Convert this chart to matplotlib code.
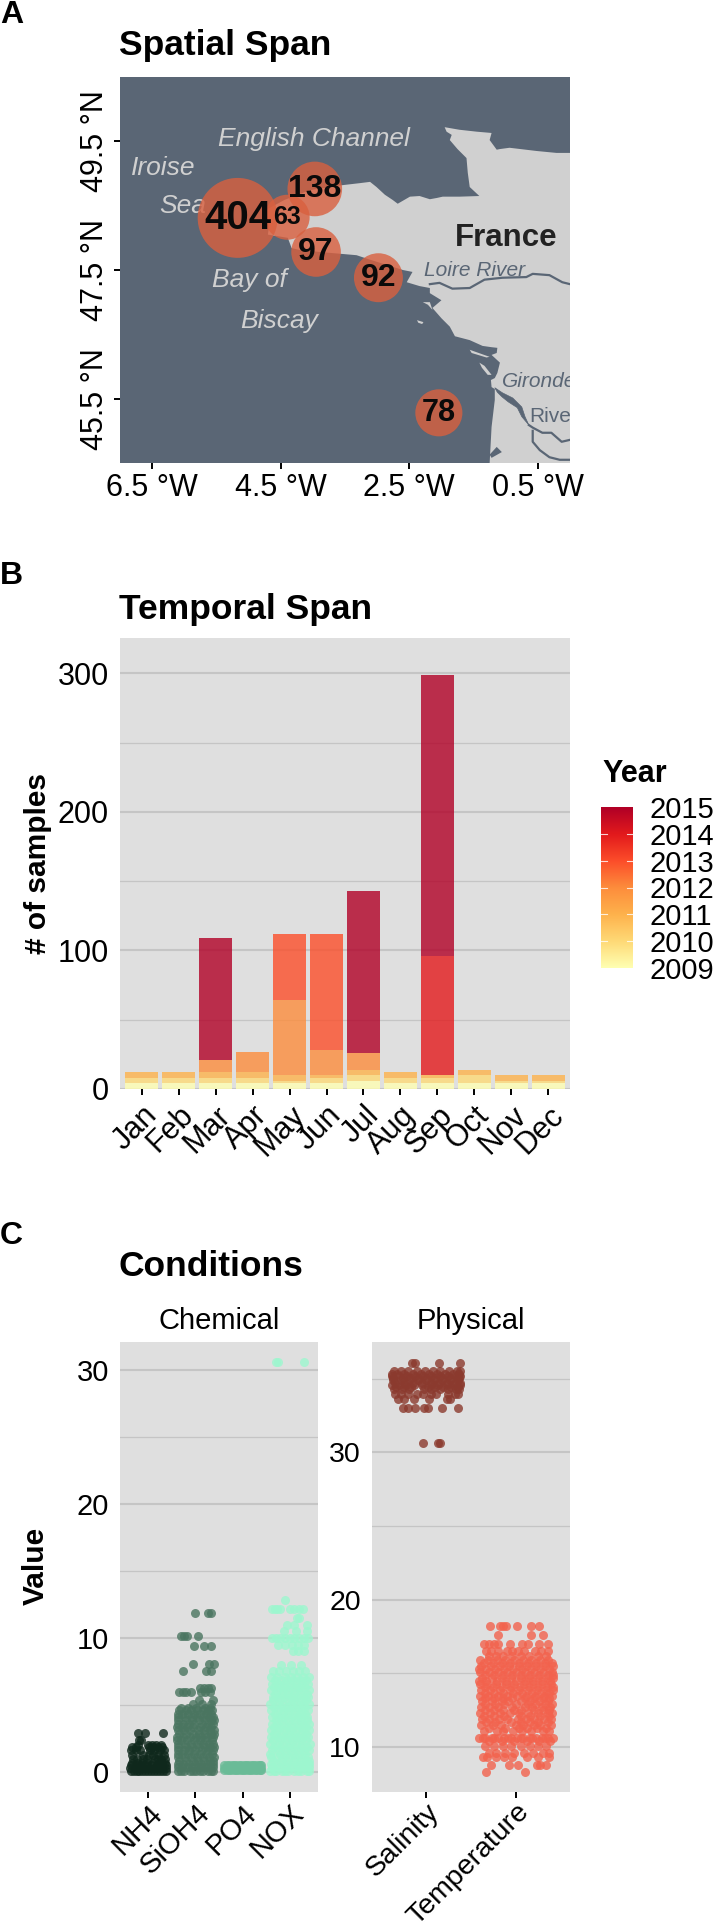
import matplotlib
matplotlib.use("Agg")
import matplotlib.pyplot as plt
from matplotlib.colors import LinearSegmentedColormap
from matplotlib.patches import Polygon

plt.rcParams["font.family"] = ["Liberation Sans", "DejaVu Sans"]

W = 717
H = 1930

# map: sampling sites and outlines (lon, lat)
site_lon = [-5.17, -3.97, -4.40, -3.95, -2.98, -2.04]
site_lat = [48.31, 48.76, 48.32, 47.78, 47.38, 45.28]
site_n = [404, 138, 63, 97, 92, 78]
site_fs = [29, 23, 18, 23, 23, 22]

land = [(0.1, 49.32), (-0.21, 49.32), (-0.52, 49.35), (-0.94, 49.40), (-1.09, 49.38), (-1.14, 49.37),
        (-1.25, 49.52), (-1.22, 49.63), (-1.45, 49.65), (-1.72, 49.68), (-1.95, 49.72), (-1.92, 49.65),
        (-1.84, 49.60), (-1.87, 49.52), (-1.75, 49.38), (-1.61, 49.24), (-1.59, 49.01), (-1.56, 48.79),
        (-1.41, 48.65), (-1.72, 48.64), (-1.98, 48.64), (-2.07, 48.62), (-2.18, 48.60), (-2.34, 48.65),
        (-2.49, 48.64), (-2.68, 48.53), (-2.76, 48.59), (-2.88, 48.67), (-3.01, 48.79), (-3.11, 48.87),
        (-3.27, 48.85), (-3.53, 48.82), (-4.05, 48.74), (-4.44, 48.59), (-4.79, 48.40), (-4.67, 48.25),
        (-4.70, 48.05), (-4.39, 48.00), (-4.33, 47.84), (-4.20, 47.81), (-3.89, 47.78), (-3.32, 47.73),
        (-3.11, 47.66), (-2.60, 47.50), (-2.45, 47.47), (-2.54, 47.31), (-2.34, 47.25), (-2.18, 47.22),
        (-2.18, 47.14), (-2.00, 47.03), (-2.14, 46.91), (-2.00, 46.75), (-1.87, 46.62), (-1.79, 46.47),
        (-1.56, 46.41), (-1.36, 46.32), (-1.22, 46.30), (-1.13, 46.29), (-1.14, 46.21), (-1.22, 46.18),
        (-1.09, 46.06), (-1.13, 45.90), (-1.17, 45.82), (-1.23, 45.79), (-1.22, 45.68), (-1.17, 45.65),
        (-1.17, 45.48), (-1.22, 45.06), (-1.25, 44.50), (-1.25, 44.40), (0.1, 44.40)]
islands = [[(-2.29, 47.00), (-2.18, 47.00), (-2.14, 46.88), (-2.21, 46.96)],
           [(-2.38, 46.72), (-2.28, 46.69), (-2.30, 46.66), (-2.36, 46.68)],
           [(-1.56, 46.26), (-1.25, 46.15), (-1.30, 46.14), (-1.53, 46.21)],
           [(-1.41, 46.06), (-1.33, 46.01), (-1.22, 45.87), (-1.28, 45.87), (-1.37, 45.98)]]
gironde = [(-1.17, 45.67), (-1.05, 45.59), (-0.89, 45.51), (-0.75, 45.37), (-0.70, 45.22), (-0.64, 45.09),
           (-0.75, 45.22), (-0.82, 45.36), (-0.96, 45.45), (-1.06, 45.53), (-1.13, 45.60)]
arcachon = [(-1.25, 44.63), (-1.14, 44.75), (-1.06, 44.67), (-1.22, 44.58)]
rivers = [[(-2.18, 47.28), (-2.03, 47.30), (-1.83, 47.21), (-1.56, 47.22), (-1.33, 47.35), (-1.05, 47.38),
           (-0.68, 47.39), (-0.58, 47.44), (-0.32, 47.42), (-0.12, 47.31), (0.0, 47.28)],
          [(-0.64, 45.09), (-0.58, 45.05), (-0.43, 44.97), (-0.29, 44.97), (-0.13, 44.83), (0.0, 44.86)],
          [(-0.58, 45.00), (-0.58, 44.83), (-0.47, 44.70), (-0.32, 44.59), (-0.16, 44.55), (0.0, 44.55)]]

lon_ticks = [-6.5, -4.5, -2.5, -0.5]
lat_ticks = [45.5, 47.5, 49.5]

# stacked counts by month, one list per year
months = ["Jan", "Feb", "Mar", "Apr", "May", "Jun", "Jul", "Aug", "Sep", "Oct", "Nov", "Dec"]
years = [2009, 2010, 2011, 2012, 2013, 2014, 2015]
y2009 = [4, 4, 4, 4, 4, 4, 6, 4, 4, 4, 4, 4]
y2010 = [4, 4, 4, 4, 2, 4, 4, 4, 4, 6, 2, 2]
y2011 = [4, 4, 4, 4, 4, 2, 4, 4, 2, 4, 4, 4]
y2012 = [0, 0, 9, 15, 54, 18, 12, 0, 0, 0, 0, 0]
y2013 = [0, 0, 0, 0, 48, 84, 0, 0, 0, 0, 0, 0]
y2014 = [0, 0, 0, 0, 0, 0, 0, 0, 86, 0, 0, 0]
y2015 = [0, 0, 88, 0, 0, 0, 117, 0, 203, 0, 0, 0]
year_counts = [y2009, y2010, y2011, y2012, y2013, y2014, y2015]
year_colors = ["#FFFFB2", "#FED976", "#FEB24C", "#FD8D3C", "#FC4E2A", "#E31A1C", "#B10026"]

# conditions: (value, jitter offsets from the category centre), read row by row
nh4 = [(0.1, [-.37, -.31, -.25, -.19, -.13, -.06, 0, .06, .12, .19, .25, .31, .37]),
       (0.3, [-.38, -.29, -.2, -.1, .02, .13, .22, .3, .38]),
       (0.5, [-.36, -.27, -.15, -.08, .05, .18, .27, .38]), (0.7, [-.35, -.25, -.13, -.03, .09, .22, .3, .36]),
       (1.0, [-.33, -.24, -.12, -.02, .14, .21, .27, .36]),
       (1.3, [-.34, -.12, .01, .11, .2, .33]), (1.6, [-.36, -.27, -.18, .03, .13, .24, .33]),
       (1.85, [-.34, -.26, .02, .1, .2, .29]), (2.0, [-.22, .0, .08, .16, .27]), (2.4, [-.2, -.15]),
       (2.9, [-.21, -.08, .32])]
sioh4 = [(0.1, [-.37, -.3, -.24, -.12, -.05, .02, .1, .15, .27, .33, .38]),
         (0.35, [-.38, -.28, -.18, -.08, .05, .12, .22, .31, .37]),
         (0.6, [-.38, -.26, -.13, -.01, .11, .24, .37]), (0.85, [-.35, -.2, -.06, .06, .18, .3, .38]),
         (1.1, [-.36, -.22, -.1, .04, .17, .29, .39]), (1.35, [-.38, -.29, -.16, -.04, .09, .23, .35]),
         (1.6, [-.38, -.25, -.14, .0, .13, .26, .38]), (1.85, [-.36, -.2, -.07, .07, .2, .31, .39]),
         (2.1, [-.37, -.23, -.09, .03, .16, .28, .37]), (2.35, [-.39, -.3, -.17, -.03, .09, .21, .35]),
         (2.6, [-.39, -.27, -.12, .01, .12, .25, .38]), (2.85, [-.35, -.2, -.06, .08, .2, .32, .39]),
         (3.1, [-.38, -.24, -.11, .05, .18, .3, .39]), (3.35, [-.39, -.29, -.18, -.05, .1, .23, .34]),
         (3.6, [-.36, -.26, -.13, -.02, .14, .27, .37]), (3.85, [-.38, -.2, -.07, .08, .21, .32, .39]),
         (4.1, [-.37, -.23, -.08, .04, .16, .29, .38]), (4.35, [-.36, -.28, -.15, -.02, .1, .22, .33]),
         (4.6, [-.35, -.21, -.1, .03, .15, .26, .36]), (4.8, [-.3, -.15, .02, .2, .3]),
         (5.1, [-.05, .13, .34]), (5.4, [.07, .37]), (6.0, [-.34, -.27, -.2, -.1, .12, .2, .3]),
         (6.3, [.09, .18, .27, .32]), (7.57, [-.27, .23, .33]), (8.05, [-.06, .29, .39]),
         (9.37, [-.04, .19, .33]), (10.17, [-.31, -.25, -.18, .05]), (11.9, [-.01, .26, .33])]
po4 = [(0.15, [-.39, -.34, -.29, -.24, -.19, -.14, -.09, -.04, .01, .06, .11, .16, .21, .26, .31, .36, .39]),
       (0.3, [-.39, -.3, -.2, -.1, .0, .1, .2, .3, .39]),
       (0.5, [-.39, -.34, -.28, -.23, -.18, -.13, -.08, -.03, .02, .07, .12, .17, .22, .27, .32, .36, .39])]
nox = [(0.1, [-.41, -.33, -.29, -.16, -.09, -.03, .1, .17, .23, .36, .41]),
       (0.35, [-.38, -.22, -.08, .05, .2, .31, .4]), (0.6, [-.39, -.26, -.12, .02, .15, .28, .4]),
       (0.85, [-.36, -.19, -.05, .09, .22, .35, .41]),
       (1.1, [-.4, -.28, -.14, -.01, .12, .26, .39]), (1.35, [-.41, -.2, -.07, .06, .2, .33]),
       (1.6, [-.38, -.25, -.11, .03, .17, .3, .41]), (1.85, [-.33, -.18, -.04, .09, .23, .36]),
       (2.1, [-.41, -.27, -.15, .0, .13, .27, .42]), (2.35, [-.35, -.2, -.06, .07, .21, .34]),
       (2.6, [-.39, -.24, -.1, .04, .16, .29, .38]), (2.85, [-.33, -.18, -.03, .1, .23, .35]),
       (3.1, [-.4, -.26, -.13, .01, .14, .28, .4]), (3.35, [-.34, -.2, -.05, .08, .22, .35]),
       (3.6, [-.38, -.27, -.12, .03, .18, .31, .41]), (3.85, [-.3, -.16, -.02, .11, .24, .36]),
       (4.1, [-.37, -.23, -.09, .05, .17, .27, .36]), (4.35, [-.31, -.17, -.03, .11, .22, .32]),
       (4.6, [-.39, -.25, -.13, -.01, .12, .25, .38]), (4.85, [-.33, -.19, -.06, .07, .19, .32]),
       (5.1, [-.41, -.27, -.14, .02, .15, .29, .4]), (5.35, [-.35, -.2, -.03, .09, .23, .35]),
       (5.6, [-.36, -.24, -.1, .04, .16, .3, .39]), (5.85, [-.31, -.17, -.04, .1, .23, .36]),
       (6.1, [-.4, -.28, -.15, -.03, .11, .24, .41]), (6.35, [-.34, -.2, -.07, .07, .2, .33]),
       (6.6, [-.38, -.25, -.12, .01, .14, .27, .39]), (6.85, [-.32, -.18, -.05, .08, .21, .34]),
       (7.1, [-.39, -.26, -.11, .03, .16, .29, .4]), (7.5, [-.36, -.22, -.08, .06, .2, .33]),
       (8.0, [-.19, .02, .23]), (9.0, [.08, .18, .3]), (9.5, [-.25, -.1, .05, .18, .3]),
       (10.0, [-.38, -.3, -.2, -.1, 0, .1, .2, .3, .38]), (10.5, [-.12, .14, .36]),
       (11.0, [-.05, .1, .37]), (11.5, [.15, .2]), (12.15, [-.38, -.32, -.26, -.2, .0, .1, .2, .28]),
       (12.8, [-.1]), (30.6, [-.3, -.24, .31])]
salinity = [(35.5, [-.36, -.28, -.2, -.1, -.01, .08, .16, .26, .34, .38]),
            (35.35, [-.38, -.32, -.24, -.15, -.06, .03, .12, .21, .3, .37]),
            (35.2, [-.38, -.3, -.21, -.12, -.03, .06, .15, .24, .33, .38]),
            (35.05, [-.37, -.26, -.17, -.08, .01, .1, .19, .28, .37]),
            (34.9, [-.37, -.28, -.19, -.09, .0, .09, .18, .27, .36]),
            (34.75, [-.35, -.24, -.14, -.04, .05, .14, .23, .32, .38]),
            (34.6, [-.38, -.3, -.22, -.13, -.05, .05, .13, .23, .31, .38]),
            (34.45, [-.33, -.25, -.17, .02, .1, .19, .28, .36]),
            (34.3, [-.36, -.27, -.19, -.02, .06, .15, .24, .33, .37]),
            (34.0, [-.34, -.28, -.2, -.1, -.03, .05, .11, .24, .32, .36]),
            (33.6, [-.31, -.25, -.13, .03, .23, .27]), (33.0, [-.26, -.2, -.12, -.02, .02, .18, .36]),
            (36.1, [-.16, -.12, .14, .38]), (30.64, [-.03, .13, .16])]
temperature = [(18.2, [-.29, -.18, -.14, -.11, .01, .17, .25]), (17.6, [-.2, .17, .3]),
               (17.0, [-.36, -.3, -.25, -.2, -.07, .07, .13, .25, .35]),
               (16.5, [-.33, -.28, -.2, -.1, -.05, .02, .09, .21, .28, .36]),
               (16.2, [-.3, -.22, -.14, -.04, .06, .14, .24, .33]),
               (15.9, [-.4, -.31, -.21, -.12, -.02, .08, .17, .27, .36]),
               (15.7, [-.36, -.26, -.16, -.07, .03, .13, .22, .32, .4]),
               (15.5, [-.39, -.28, -.18, -.08, .03, .12, .22, .32, .41]),
               (15.3, [-.41, -.33, -.23, -.13, -.03, .07, .17, .27, .37]),
               (15.1, [-.4, -.3, -.2, -.1, .0, .1, .2, .3, .4]),
               (14.9, [-.35, -.25, -.15, -.05, .05, .15, .25, .35, .41]),
               (14.7, [-.38, -.27, -.16, -.06, .05, .14, .24, .34, .41]),
               (14.5, [-.41, -.33, -.21, -.11, .0, .1, .19, .29, .38]),
               (14.3, [-.4, -.32, -.22, -.11, -.02, .09, .19, .29, .39]),
               (14.1, [-.35, -.26, -.16, -.06, .04, .14, .24, .34, .41]),
               (13.9, [-.39, -.29, -.18, -.07, .03, .13, .23, .33, .41]),
               (13.7, [-.34, -.24, -.14, -.03, .07, .18, .28, .37]),
               (13.5, [-.4, -.31, -.2, -.1, .01, .11, .21, .31, .4]),
               (13.3, [-.35, -.25, -.15, -.04, .1, .2, .3, .37]),
               (13.1, [-.38, -.27, -.16, -.09, .06, .15, .25, .35]),
               (12.9, [-.34, -.23, -.13, .0, .13, .22, .32, .4]),
               (12.7, [-.39, -.3, -.2, -.05, .1, .18, .29, .38]),
               (12.5, [-.35, -.25, -.15, -.02, .06, .2, .3, .37]),
               (12.3, [-.4, -.29, -.18, -.07, .03, .13, .24, .35, .4]),
               (12.1, [-.36, -.24, -.13, .06, .16, .27, .37]),
               (11.9, [-.38, -.3, -.19, -.1, .02, .11, .2, .31, .39]),
               (11.7, [-.33, -.23, -.06, .05, .15, .24, .35]),
               (11.5, [-.39, -.26, -.17, .0, .08, .2, .27, .39]),
               (11.3, [-.3, -.12, .03, .12, .23, .33]),
               (11.1, [-.36, -.21, -.14, -.03, .07, .17, .3, .37]),
               (10.6, [-.41, -.37, -.34, -.27, -.24, -.2, -.13, -.09, -.06, .01, .05, .08, .15, .18, .22, .29, .32, .36, .41]),
               (10.4, [-.3, -.16, -.02, .12, .26, .38]),
               (10.1, [-.34, -.25, -.15, -.06, .06, .15, .24, .33]),
               (9.6, [-.3, -.22, -.12, -.02, .09, .19, .3, .37]),
               (9.3, [-.37, -.32, -.22, -.13, -.05, .12, .24, .37]),
               (8.8, [-.28, -.08, .02, .23, .27, .33]), (8.3, [-.33, .1])]

chem_cats = ["NH4", "SiOH4", "PO4", "NOX"]
chem_rows = [nh4, sioh4, po4, nox]
chem_colors = ["#0F281C", "#4A7560", "#6ABB97", "#9DF7CF"]
phys_cats = ["Salinity", "Temperature"]
phys_rows = [salinity, temperature]
phys_colors = ["#8B3A2E", "#F3624D"]

OCEAN = "#5A6675"
LAND = "#D0D0D0"
PANEL = "#DFDFDF"
GRID = "#C5C5C5"


def px_axes(left, top, right, bottom):
    return fig.add_axes([left / W, 1 - bottom / H, (right - left) / W, (bottom - top) / H])


def fig_text(x, y, s, **kw):
    fig.text(x / W, 1 - y / H, s, **kw)


def panel_style(ax, fs, xpad=4):
    ax.set_facecolor(PANEL)
    for s in ax.spines.values():
        s.set_visible(False)
    ax.set_axisbelow(True)
    ax.yaxis.grid(True, which="major", color=GRID, lw=1.5)
    ax.yaxis.grid(True, which="minor", color=GRID, lw=0.9)
    ax.xaxis.grid(False)
    ax.tick_params(axis="y", which="both", length=0, labelsize=fs, pad=8)
    ax.tick_params(axis="x", length=4, width=1.4, labelsize=fs, pad=xpad)


def draw_jitter(ax, cats, rows, colors):
    for i, cat_rows in enumerate(rows):
        xs = []
        ys = []
        for value, offsets in cat_rows:
            for off in offsets:
                xs.append(i + 1 + off)
                ys.append(value)
        ax.scatter(xs, ys, s=42, color=colors[i], alpha=0.8, linewidths=0, zorder=3)
    ax.set_xticks(range(1, len(cats) + 1))
    ax.set_xticklabels(cats, rotation=45, ha="right", rotation_mode="anchor")


fig = plt.figure(figsize=(W / 100, H / 100), dpi=100)

# ---- A: map
ax = px_axes(120, 77, 570, 463)
ax.set_facecolor(OCEAN)
ax.set_xlim(-7, 0)
ax.set_ylim(44.5, 50.5)
for s in ax.spines.values():
    s.set_visible(False)
ax.add_patch(Polygon(land, closed=True, fc=LAND, ec="none", zorder=1))
for isl in islands:
    ax.add_patch(Polygon(isl, closed=True, fc=LAND, ec="none", zorder=1))
ax.add_patch(Polygon(gironde, closed=True, fc=OCEAN, ec=OCEAN, lw=0.5, zorder=2))
ax.add_patch(Polygon(arcachon, closed=True, fc=OCEAN, ec="none", zorder=2))
for r in rivers:
    ax.plot([p[0] for p in r], [p[1] for p in r], color=OCEAN, lw=1.6, zorder=2)

ax.text(-3.99, 49.54, "English Channel", style="italic", color=LAND, fontsize=19, ha="center", va="center")
ax.text(-6.33, 49.09, "Iroise", style="italic", color=LAND, fontsize=19, ha="center", va="center")
ax.text(-6.02, 48.50, "Sea", style="italic", color=LAND, fontsize=19, ha="center", va="center")
ax.text(-4.98, 47.35, "Bay of", style="italic", color=LAND, fontsize=19, ha="center", va="center")
ax.text(-4.53, 46.71, "Biscay", style="italic", color=LAND, fontsize=19, ha="center", va="center")
ax.text(-1.0, 48.0, "France", weight="bold", color="#222222", fontsize=22.5, ha="center", va="center")
ax.text(-1.48, 47.49, "Loire River", style="italic", color=OCEAN, fontsize=15, ha="center", va="center")
ax.text(-1.06, 45.76, "Gironde", style="italic", color=OCEAN, fontsize=15, ha="left", va="center", clip_on=True)
ax.text(-0.64, 45.22, "River", color=OCEAN, fontsize=15, ha="left", va="center", clip_on=True)

# area grows linearly with the sample count
radius2 = [506 + 3.2 * (n - 63) for n in site_n]
sizes = [4 * r2 * (72 / 100) ** 2 for r2 in radius2]
ax.scatter(site_lon, site_lat, s=sizes, color="#D9603F", alpha=0.8, linewidths=0, zorder=4)
for lon, lat, n, fs in zip(site_lon, site_lat, site_n, site_fs):
    ax.text(lon, lat, str(n), weight="bold", fontsize=fs, color="#0A0A0A", ha="center", va="center", zorder=5)

ax.set_xticks(lon_ticks)
ax.set_xticklabels(["%.1f °W" % abs(v) for v in lon_ticks])
ax.set_yticks(lat_ticks)
ax.set_yticklabels(["%.1f °N" % v for v in lat_ticks], rotation=90, va="center")
ax.tick_params(length=4, width=1.4, labelsize=22, pad=3)

# ---- B: stacked bars
ax = px_axes(120, 638, 570, 1089)
panel_style(ax, 22)
bottom = [0] * 12
pos = list(range(1, 13))
for counts, col in zip(year_counts, year_colors):
    ax.bar(pos, counts, width=0.9, bottom=bottom, color=col, alpha=0.8, linewidth=0, zorder=3)
    bottom = [b + c for b, c in zip(bottom, counts)]
ax.set_xlim(0.41, 12.59)
ax.set_ylim(0, 325.5)
ax.set_yticks([0, 100, 200, 300])
ax.set_yticks([50, 150, 250], minor=True)
ax.set_xticks(pos)
ax.set_xticklabels(months, rotation=45, ha="right", rotation_mode="anchor")

# colour bar legend
cax = px_axes(601, 807, 633, 968)
cmap = LinearSegmentedColormap.from_list("year", year_colors)
cax.imshow([[i] for i in range(256, -1, -1)], cmap=cmap, aspect="auto", extent=[0, 1, years[0], years[-1]])
cax.set_xticks([])
cax.yaxis.tick_right()
cax.set_yticks(years)
cax.tick_params(axis="y", length=0, labelsize=21, pad=12)
for s in cax.spines.values():
    s.set_visible(False)
for y in years[1:-1]:
    cax.plot([0, 0.2], [y, y], color="white", lw=0.8, alpha=0.8)
    cax.plot([0.8, 1], [y, y], color="white", lw=0.8, alpha=0.8)
cax.set_xlim(0, 1)
cax.set_ylim(years[0], years[-1])

# ---- C: jittered conditions
ax = px_axes(120, 1342, 318, 1792)
panel_style(ax, 21, xpad=1)
draw_jitter(ax, chem_cats, chem_rows, chem_colors)
ax.set_xlim(0.4, 4.6)
ax.set_ylim(-1.5, 32.1)
ax.set_yticks([0, 10, 20, 30])
ax.set_yticks([5, 15, 25], minor=True)

ax = px_axes(372, 1342, 570, 1792)
panel_style(ax, 20.5, xpad=1)
draw_jitter(ax, phys_cats, phys_rows, phys_colors)
ax.set_xlim(0.4, 2.6)
ax.set_ylim(6.95, 37.5)
ax.set_yticks([10, 20, 30])
ax.set_yticks([15, 25, 35], minor=True)

# ---- figure level text
for letter, y in zip("ABC", [15, 576, 1236]):
    fig_text(0, y, letter, weight="bold", fontsize=23, ha="left", va="center")
fig_text(119, 46, "Spatial Span", weight="bold", fontsize=25.5, ha="left", va="center")
fig_text(119, 609, "Temporal Span", weight="bold", fontsize=25.5, ha="left", va="center")
fig_text(119, 1266, "Conditions", weight="bold", fontsize=25.5, ha="left", va="center")
fig_text(219, 1321, "Chemical", fontsize=21, ha="center", va="center")
fig_text(471, 1321, "Physical", fontsize=21, ha="center", va="center")
fig_text(38, 863, "# of samples", weight="bold", fontsize=21.5, rotation=90, ha="center", va="center")
fig_text(36, 1566, "Value", weight="bold", fontsize=21.5, rotation=90, ha="center", va="center")
fig_text(602, 774, "Year", weight="bold", fontsize=22, ha="left", va="center")

fig.savefig("out.png", dpi=100)
